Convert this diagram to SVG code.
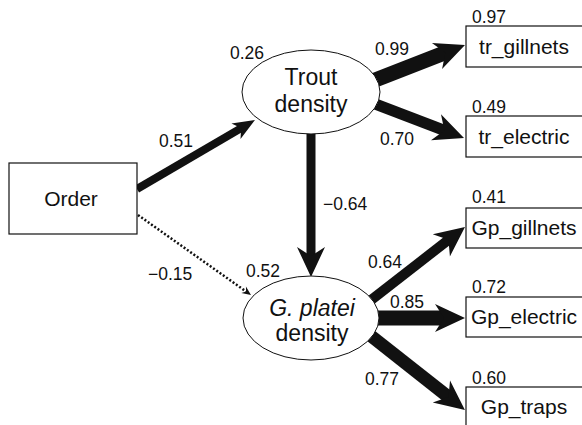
<svg xmlns="http://www.w3.org/2000/svg" width="582" height="425" viewBox="0 0 582 425">
<style>
.lbl{font-family:"Liberation Sans",Arial,sans-serif;font-size:21px;fill:#111}
.big{font-size:23px}
.num{font-family:"Liberation Sans",Arial,sans-serif;font-size:17.5px;fill:#111}
.box{fill:#fff;stroke:#111;stroke-width:1.2}
.ell{fill:#fff;stroke:#111;stroke-width:1}
.arr{fill:none;stroke:#111;stroke-linecap:butt}
</style>
<defs>
<marker id="big" markerUnits="userSpaceOnUse" markerWidth="32" markerHeight="30" viewBox="0 -15 32 30" refX="12" refY="0" orient="auto" overflow="visible">
<path d="M30,0 L0,-14 L9,0 L0,14 Z" fill="#111"/>
</marker>
<marker id="mid" markerUnits="userSpaceOnUse" markerWidth="24" markerHeight="20" viewBox="0 -10 24 20" refX="10" refY="0" orient="auto" overflow="visible">
<path d="M22,0 L0,-9 L6,0 L0,9 Z" fill="#111"/>
</marker>
<marker id="small" markerUnits="userSpaceOnUse" markerWidth="10" markerHeight="10" viewBox="0 -5 10 10" refX="4" refY="0" orient="auto" overflow="visible">
<path d="M9,0 L0,-4 L3,0 L0,4 Z" fill="#111"/>
</marker>
</defs>
<rect width="582" height="425" fill="#fff"/>
<g id="connectors">
<path class="arr" d="M137,189 L244.6,126.1" stroke-width="8" marker-end="url(#mid)"/>
<path class="arr" d="M138,215 L246.9,292.1" stroke-width="2.5" stroke-dasharray="2 2" marker-end="url(#small)"/>
<path class="arr" d="M311,128 L311,259" stroke-width="9" marker-end="url(#big)"/>
<path class="arr" d="M370,82 L448.2,51.6" stroke-width="15" marker-end="url(#big)"/>
<path class="arr" d="M370,102 L447.2,131.5" stroke-width="11" marker-end="url(#big)"/>
<path class="arr" d="M366,304 L450.8,238" stroke-width="10" marker-end="url(#big)"/>
<path class="arr" d="M370,318 L447,318" stroke-width="15" marker-end="url(#big)"/>
<path class="arr" d="M366,332 L450.8,398.9" stroke-width="13" marker-end="url(#big)"/>
</g>
<g id="order">
<rect class="box" x="9" y="163" width="128" height="71"/>
<text class="lbl" x="71" y="206" text-anchor="middle" font-size="23.5">Order</text>
</g>
<g id="trout">
<ellipse class="ell" cx="311" cy="92" rx="69" ry="42"/>
<text class="lbl big" x="311" y="85" text-anchor="middle">Trout</text>
<text class="lbl big" x="311" y="112" text-anchor="middle">density</text>
<text class="num" x="230" y="59">0.26</text>
</g>
<g id="gplatei">
<ellipse class="ell" cx="311" cy="318" rx="68" ry="42"/>
<text class="lbl big" x="312" y="316" text-anchor="middle"><tspan font-style="italic">G. platei</tspan></text>
<text class="lbl big" x="312" y="341" text-anchor="middle">density</text>
<text class="num" x="246" y="277">0.52</text>
</g>
<g id="tr_gillnets">
<rect class="box" x="466" y="26" width="120" height="41"/>
<text class="lbl" x="524" y="54" text-anchor="middle">tr_gillnets</text>
<text class="num" x="472" y="23">0.97</text>
</g>
<g id="tr_electric">
<rect class="box" x="466" y="116" width="120" height="41"/>
<text class="lbl" x="524" y="144" text-anchor="middle">tr_electric</text>
<text class="num" x="472" y="113">0.49</text>
</g>
<g id="gp_gillnets">
<rect class="box" x="466" y="208" width="120" height="40"/>
<text class="lbl" x="524" y="235" text-anchor="middle">Gp_gillnets</text>
<text class="num" x="472" y="203">0.41</text>
</g>
<g id="gp_electric">
<rect class="box" x="466" y="297" width="120" height="40"/>
<text class="lbl" x="524" y="324" text-anchor="middle">Gp_electric</text>
<text class="num" x="472" y="293">0.72</text>
</g>
<g id="gp_traps">
<rect class="box" x="466" y="387" width="120" height="42"/>
<text class="lbl" x="524" y="414" text-anchor="middle">Gp_traps</text>
<text class="num" x="472" y="384">0.60</text>
</g>
<g id="edge-labels">
<text class="num" x="159" y="147">0.51</text>
<text class="num" x="148" y="280">−0.15</text>
<text class="num" x="323" y="210">−0.64</text>
<text class="num" x="375" y="55">0.99</text>
<text class="num" x="380" y="145">0.70</text>
<text class="num" x="368" y="268">0.64</text>
<text class="num" x="390" y="308">0.85</text>
<text class="num" x="365" y="385">0.77</text>
</g>
</svg>
